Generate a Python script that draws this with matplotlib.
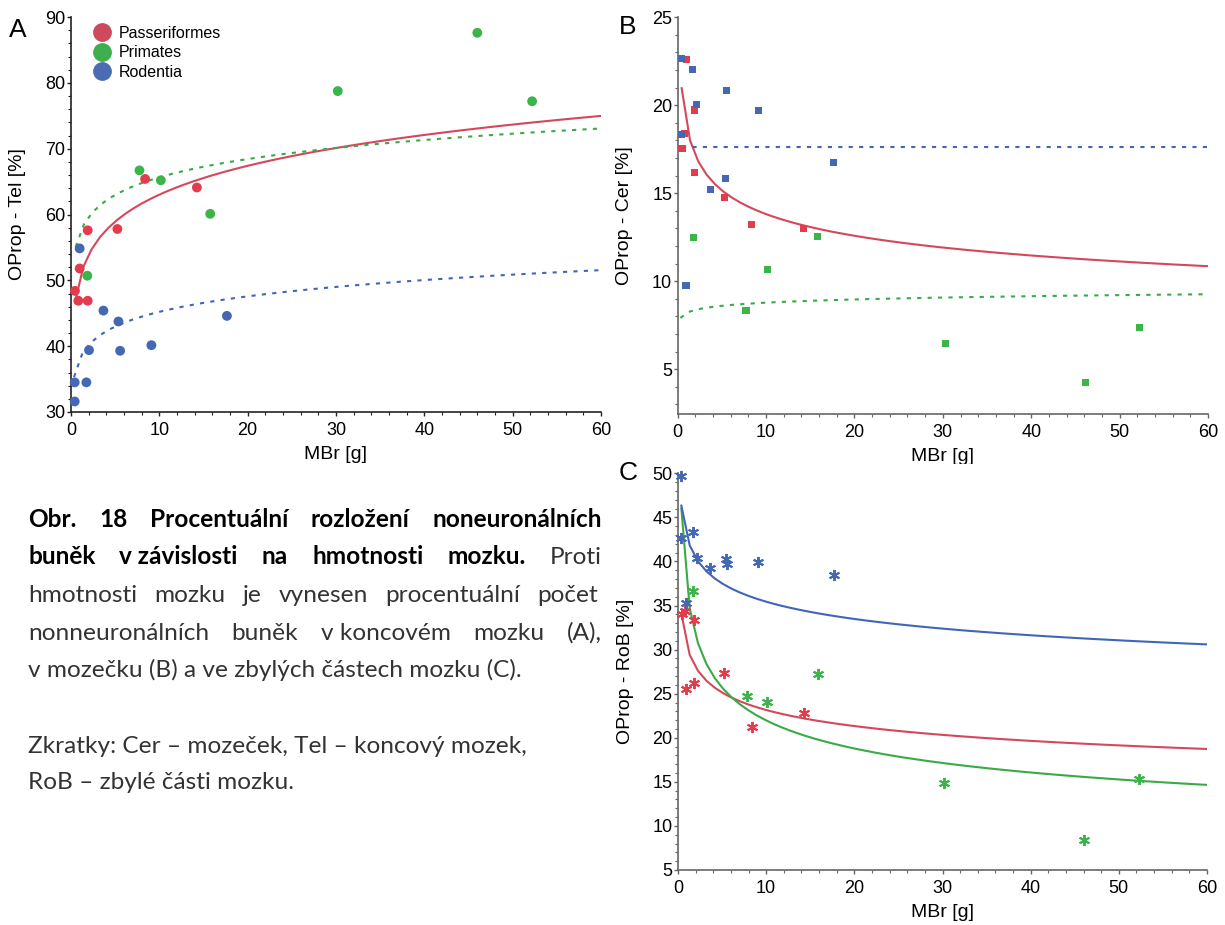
import matplotlib
matplotlib.use('Agg')
import matplotlib.pyplot as plt
from matplotlib.lines import Line2D
from matplotlib.patches import Rectangle
from matplotlib.ticker import MultipleLocator
import numpy as np

W, H = 1225, 925

# ---- data ----
groups = ['Passeriformes', 'Primates', 'Rodentia']

# A: OProp - Tel [%]
A_pass_x = [0.45, 0.83, 0.98, 1.89, 1.89, 5.25, 8.39, 14.25]
A_pass_y = [48.4, 46.9, 51.8, 46.9, 57.6, 57.8, 65.4, 64.1]
A_prim_x = [1.85, 7.75, 10.17, 15.76, 30.2, 46.0, 52.2]
A_prim_y = [50.7, 66.7, 65.2, 60.1, 78.75, 87.6, 77.2]
A_rod_x = [0.98, 3.67, 5.37, 2.04, 5.56, 9.1, 17.65, 0.42, 1.74, 0.42]
A_rod_y = [54.85, 45.4, 43.75, 39.4, 39.3, 40.15, 44.6, 34.5, 34.5, 31.6]

# B: OProp - Cer [%]
B_pass_x = [1.0, 1.85, 0.72, 0.49, 1.85, 5.26, 8.33, 14.24]
B_pass_y = [22.61, 19.73, 18.42, 17.55, 16.18, 14.76, 13.24, 13.0]
B_prim_x = [1.74, 15.83, 10.15, 7.73, 30.3, 46.1, 52.3]
B_prim_y = [12.49, 12.54, 10.67, 8.35, 6.47, 4.25, 7.38]
B_rod_x = [0.38, 1.63, 5.49, 2.08, 9.13, 0.38, 17.65, 5.38, 3.67, 0.94]
B_rod_y = [22.67, 22.04, 20.85, 20.05, 19.71, 18.34, 16.75, 15.84, 15.22, 9.76]

# C: OProp - RoB [%]
C_pass_x = [0.45, 0.8, 1.85, 5.26, 0.91, 1.85, 14.28, 8.37]
C_pass_y = [34.01, 34.42, 33.33, 27.32, 25.51, 26.22, 22.86, 21.24]
C_prim_x = [1.74, 15.83, 7.80, 10.15, 30.2, 46.1, 52.3]
C_prim_y = [36.66, 27.21, 24.78, 24.04, 14.89, 8.42, 15.34]
C_rod_x = [0.38, 0.38, 1.70, 2.12, 3.67, 5.42, 5.57, 9.13, 17.65, 0.94]
C_rod_y = [49.73, 42.66, 43.31, 40.43, 39.3, 40.25, 39.68, 39.94, 38.44, 35.33]

# fitted power curves y = a * x^b (coefficients)
A_fit_a = [50.4, 57.2, 38.2]
A_fit_b = [0.097, 0.0598, 0.0732]
A_fit_x0 = [0.45, 0.53, 0.34]
B_fit_a = [18.83, 8.20, 17.62]
B_fit_b = [-0.1346, 0.0296, 0.0]
B_fit_x0 = [0.45, 0.3, 0.5]
C_fit_a = [30.4, 36.97, 42.8]
C_fit_b = [-0.1183, -0.226, -0.082]
C_fit_x0 = [0.38, 0.38, 0.38]

xmax = 60

red = '#e23c4e'
green = '#3bb54a'
blue = '#4468b4'
cols = [red, green, blue]
line_cols = ['#d5485b', '#3aaa47', '#4066b8']

plt.rcParams['font.family'] = ['Liberation Sans', 'DejaVu Sans']

fig = plt.figure(figsize=(W / 100, H / 100), dpi=100)


def px_axes(x0, y0, x1, y1, **kw):
    return fig.add_axes([x0 / W, 1 - y1 / H, (x1 - x0) / W, (y1 - y0) / H], **kw)


def style(ax, ylim, ymaj, ymin, spine_col):
    ax.set_xlim(0, xmax)
    ax.set_ylim(*ylim)
    ax.spines['top'].set_visible(False)
    ax.spines['right'].set_visible(False)
    for s in ['left', 'bottom']:
        ax.spines[s].set_color(spine_col)
        ax.spines[s].set_linewidth(1.2)
    ax.xaxis.set_major_locator(MultipleLocator(10))
    ax.xaxis.set_minor_locator(MultipleLocator(2))
    ax.yaxis.set_major_locator(MultipleLocator(ymaj))
    ax.yaxis.set_minor_locator(MultipleLocator(ymin))
    ax.tick_params(which='major', length=3, width=1, color=spine_col, labelsize=13)
    ax.tick_params(which='minor', length=2, width=0.8, color=spine_col)
    ax.tick_params(axis='y', which='major', pad=1)
    ax.tick_params(axis='x', which='major', pad=4)
    ax.set_xlabel('MBr [g]', fontsize=14)
    ax.xaxis.set_label_coords(0.5, -0.086)


def fit_lines(ax, a_list, b_list, x0_list, styles):
    for a, b, x0, c, ls in zip(a_list, b_list, x0_list, line_cols, styles):
        xs = np.linspace(x0, xmax, 64)
        ax.plot(xs, a * xs ** b, color=c, lw=1.5, ls=ls, zorder=2)


dash = (0, (2, 3))

# ---- panel A ----
axA = px_axes(71, 17, 601, 412)
style(axA, (30, 90), 10, 2, '#222222')
fit_lines(axA, A_fit_a, A_fit_b, A_fit_x0, ['-', dash, dash])
for xs, ys, c in zip([A_pass_x, A_prim_x, A_rod_x], [A_pass_y, A_prim_y, A_rod_y], cols):
    axA.scatter(xs, ys, s=50, color=c, edgecolors='none', zorder=3, clip_on=False)
axA.set_ylabel('OProp - Tel [%]', fontsize=14)
axA.yaxis.set_label_coords(-0.085, 0.5)
handles = [Line2D([], [], ls='none', marker='o', markersize=12.5, color=c)
           for c in ['#cc4a5c', '#3fae4c', '#4a6cb3']]
axA.legend(handles, groups, loc='upper left', bbox_to_anchor=(94 / W, 1 - 26 / H),
           bbox_transform=fig.transFigure, frameon=False, fontsize=11.5,
           handlelength=1.0, handletextpad=0.55, labelspacing=0.28, borderaxespad=0,
           borderpad=0)

# ---- panel B ----
axB = px_axes(677.7, 17.3, 1208, 414)
style(axB, (2.45, 25), 5, 1, '#666666')
fit_lines(axB, B_fit_a, B_fit_b, B_fit_x0, ['-', dash, dash])
for xs, ys, c in zip([B_pass_x, B_prim_x, B_rod_x], [B_pass_y, B_prim_y, B_rod_y], cols):
    axB.scatter(xs, ys, s=26, marker='s', color=c, edgecolors='none', zorder=3, clip_on=False)
axB.set_ylabel('OProp - Cer [%]', fontsize=14)
axB.yaxis.set_label_coords(-0.084, 0.5)

# white band that hides the lower part of B's x label (as in the original)
fig.add_artist(Rectangle((640 / W, 1 - 480 / H), (W - 640) / W, 16 / H,
                         transform=fig.transFigure, facecolor='white',
                         edgecolor='none', zorder=0.5))

# ---- panel C ----
axC = px_axes(678, 473.3, 1207, 870, zorder=1)
style(axC, (5, 50), 5, 1, '#666666')
fit_lines(axC, C_fit_a, C_fit_b, C_fit_x0, ['-', '-', '-'])
for xs, ys, c in zip([C_pass_x, C_prim_x, C_rod_x], [C_pass_y, C_prim_y, C_rod_y], cols):
    axC.plot(xs, ys, ls='none', marker=(6, 2, 0), markersize=8, mew=1.4, color=c,
             zorder=3, clip_on=False)
axC.set_ylabel('OProp - RoB [%]', fontsize=14)
axC.yaxis.set_label_coords(-0.084, 0.5)

# panel letters
fig.text(18 / W, 1 - 30 / H, 'A', fontsize=19, ha='center', va='center')
fig.text(628 / W, 1 - 27 / H, 'B', fontsize=19, ha='center', va='center')
fig.text(628 / W, 1 - 473 / H, 'C', fontsize=19, ha='center', va='center')

# ---- caption (justified) ----
cap_font = 'Lato'
renderer = fig.canvas.get_renderer()

last_line = 'v mozečku (B) a ve zbylých částech mozku (C).'
probe = fig.text(0, 0, last_line, fontsize=16, family=cap_font)
cap_size = 16 * 495 / probe.get_window_extent(renderer).width
probe.remove()


def word_width(s, bold):
    t = fig.text(0, 0, s, fontsize=cap_size, family=cap_font,
                 weight='bold' if bold else 'normal')
    w = t.get_window_extent(renderer).width
    t.remove()
    return w


def put_line(tokens, base_y, x0=28, x1=602, justify=True):
    widths = [word_width(s, b) for s, b in tokens]
    if justify and len(tokens) > 1:
        gap = (x1 - x0 - sum(widths)) / (len(tokens) - 1)
    else:
        gap = word_width('a b', False) - word_width('ab', False)
    x = x0
    for (s, b), w in zip(tokens, widths):
        fig.text(x / W, 1 - base_y / H, s, fontsize=cap_size, family=cap_font,
                 weight='bold' if b else 'normal', color='#000000' if b else '#333333',
                 ha='left', va='baseline')
        x += w + gap


B_, N_ = True, False
put_line([('Obr.', B_), ('18', B_), ('Procentuální', B_), ('rozložení', B_),
          ('noneuronálních', B_)], 527)
put_line([('buněk', B_), ('v závislosti', B_), ('na', B_), ('hmotnosti', B_),
          ('mozku.', B_), ('Proti', N_)], 564.5)
put_line([('hmotnosti', N_), ('mozku', N_), ('je', N_), ('vynesen', N_),
          ('procentuální', N_), ('počet', N_)], 602, x1=598)
put_line([('nonneuronálních', N_), ('buněk', N_), ('v koncovém', N_), ('mozku', N_),
          ('(A),', N_)], 639.5)
put_line([(last_line, N_)], 677, justify=False)
put_line([('Zkratky: Cer – mozeček, Tel – koncový mozek,', N_)], 753, justify=False)
put_line([('RoB – zbylé části mozku.', N_)], 789, justify=False)

fig.savefig('out.png', dpi=100)
